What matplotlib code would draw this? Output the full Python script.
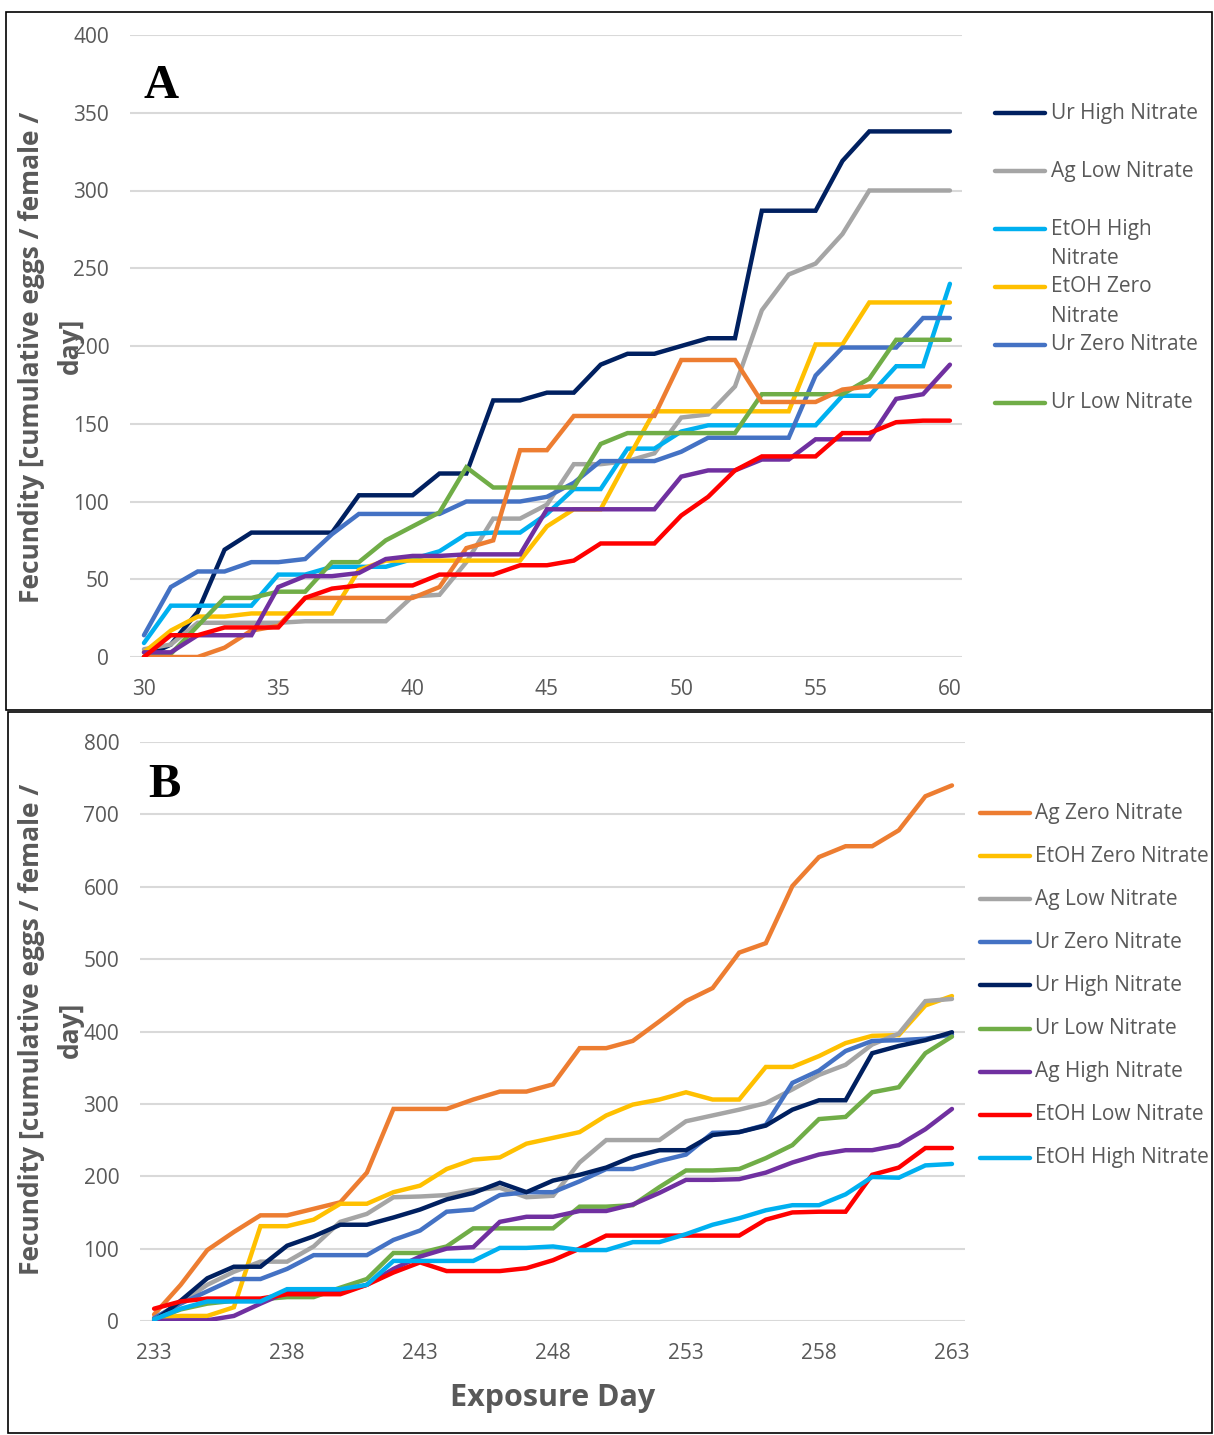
import matplotlib.pyplot as plt
from matplotlib.lines import Line2D
from matplotlib.patches import Rectangle

# ---- panel A: exposure days 30-60 ----
days_a = list(range(30, 61))
ur_high_a = [0, 8, 29, 69, 80, 80, 80, 80, 104, 104, 104, 118, 118, 165, 165, 170,
             170, 188, 195, 195, 200, 205, 205, 287, 287, 287, 319, 338, 338, 338, 338]
ag_low_a = [5, 8, 22, 22, 22, 22, 23, 23, 23, 23, 39, 40, 61, 89, 89, 98,
            124, 124, 126, 131, 154, 156, 174, 223, 246, 253, 272, 300, 300, 300, 300]
etoh_high_a = [9, 33, 33, 33, 33, 53, 53, 58, 58, 58, 63, 68, 79, 80, 80, 92,
               108, 108, 134, 134, 145, 149, 149, 149, 149, 149, 168, 168, 187, 187, 240]
etoh_zero_a = [3, 17, 26, 26, 28, 28, 28, 28, 56, 62, 62, 62, 62, 62, 62, 84,
               95, 95, 127, 158, 158, 158, 158, 158, 158, 201, 201, 228, 228, 228, 228]
ur_zero_a = [14, 45, 55, 55, 61, 61, 63, 79, 92, 92, 92, 92, 100, 100, 100, 103,
             112, 126, 126, 126, 132, 141, 141, 141, 141, 181, 199, 199, 199, 218, 218]
ur_low_a = [0, 2, 20, 38, 38, 42, 42, 61, 61, 75, 84, 93, 122, 109, 109, 109,
            109, 137, 144, 144, 144, 144, 144, 169, 169, 169, 169, 179, 204, 204, 204]
ag_zero_a = [0, 0, 0, 6, 17, 20, 38, 38, 38, 38, 38, 45, 70, 75, 133, 133,
             155, 155, 155, 155, 191, 191, 191, 164, 164, 164, 172, 174, 174, 174, 174]
ag_high_a = [3, 3, 14, 14, 14, 45, 52, 52, 54, 63, 65, 65, 66, 66, 66, 95,
             95, 95, 95, 95, 116, 120, 120, 127, 127, 140, 140, 140, 166, 169, 188]
etoh_low_a = [0, 14, 14, 19, 19, 19, 38, 44, 46, 46, 46, 53, 53, 53, 59, 59,
              62, 73, 73, 73, 91, 103, 120, 129, 129, 129, 144, 144, 151, 152, 152]

# ---- panel B: exposure days 233-263 ----
days_b = list(range(233, 264))
ag_zero_b = [9, 50, 98, 123, 146, 146, 155, 164, 205, 293, 293, 293, 306, 317, 317, 327,
             377, 377, 387, 414, 442, 460, 509, 522, 601, 641, 656, 656, 678, 725, 740]
etoh_zero_b = [4, 7, 7, 19, 131, 131, 140, 162, 162, 178, 187, 210, 223, 226, 245, 253,
               261, 284, 299, 306, 316, 306, 306, 351, 351, 366, 384, 394, 395, 436, 449]
ag_low_b = [4, 25, 50, 68, 82, 82, 103, 137, 148, 171, 172, 174, 181, 184, 171, 173,
            219, 250, 250, 250, 276, 284, 292, 301, 320, 340, 354, 382, 397, 442, 445]
ur_zero_b = [4, 24, 41, 58, 58, 72, 91, 91, 91, 112, 125, 151, 154, 174, 178, 178,
             193, 210, 210, 221, 230, 260, 261, 271, 329, 346, 373, 387, 388, 390, 396]
ur_high_b = [0, 28, 59, 75, 75, 104, 117, 133, 133, 143, 154, 168, 177, 191, 178, 194,
             202, 212, 227, 236, 236, 257, 261, 270, 292, 305, 305, 370, 380, 388, 399]
ur_low_b = [2, 16, 24, 28, 30, 33, 33, 46, 58, 94, 94, 103, 128, 128, 128, 128,
            158, 158, 160, 185, 208, 208, 210, 225, 243, 279, 282, 316, 323, 370, 393]
ag_high_b = [0, 1, 1, 7, 24, 40, 40, 40, 50, 72, 89, 100, 102, 137, 144, 144,
             152, 152, 161, 177, 195, 195, 196, 205, 219, 230, 236, 236, 243, 265, 293]
etoh_low_b = [17, 27, 31, 31, 31, 37, 37, 37, 50, 67, 81, 69, 69, 69, 73, 84,
              100, 118, 118, 118, 118, 118, 118, 140, 150, 151, 151, 202, 212, 239, 239]
etoh_high_b = [2, 17, 27, 27, 27, 44, 44, 44, 50, 83, 83, 83, 83, 101, 101, 103,
               98, 98, 109, 109, 120, 133, 142, 153, 160, 160, 175, 199, 198, 215, 217]

# colours per treatment
colors = {
    'Ur High Nitrate': '#002060',
    'Ag Low Nitrate': '#A5A5A5',
    'EtOH High Nitrate': '#00B0F0',
    'EtOH Zero Nitrate': '#FFC000',
    'Ur Zero Nitrate': '#4472C4',
    'Ur Low Nitrate': '#70AD47',
    'Ag Zero Nitrate': '#ED7D31',
    'Ag High Nitrate': '#7030A0',
    'EtOH Low Nitrate': '#FF0000',
}

series_a = [('Ur High Nitrate', ur_high_a), ('Ag Low Nitrate', ag_low_a),
            ('EtOH High Nitrate', etoh_high_a), ('EtOH Zero Nitrate', etoh_zero_a),
            ('Ur Zero Nitrate', ur_zero_a), ('Ur Low Nitrate', ur_low_a),
            ('Ag Zero Nitrate', ag_zero_a), ('Ag High Nitrate', ag_high_a),
            ('EtOH Low Nitrate', etoh_low_a)]
series_b = [('Ag Zero Nitrate', ag_zero_b), ('EtOH Zero Nitrate', etoh_zero_b),
            ('Ag Low Nitrate', ag_low_b), ('Ur Zero Nitrate', ur_zero_b),
            ('Ur High Nitrate', ur_high_b), ('Ur Low Nitrate', ur_low_b),
            ('Ag High Nitrate', ag_high_b), ('EtOH Low Nitrate', etoh_low_b),
            ('EtOH High Nitrate', etoh_high_b)]

# legend A only lists the first six series (the rest got cut off)
legend_a = [('Ur High Nitrate', ['Ur High Nitrate']),
            ('Ag Low Nitrate', ['Ag Low Nitrate']),
            ('EtOH High Nitrate', ['EtOH High', 'Nitrate']),
            ('EtOH Zero Nitrate', ['EtOH Zero', 'Nitrate']),
            ('Ur Zero Nitrate', ['Ur Zero Nitrate']),
            ('Ur Low Nitrate', ['Ur Low Nitrate'])]

TXT = '#595959'
GRID = '#D9D9D9'
W, H = 1214, 1435
LEG_FS = 15

plt.rcParams['font.family'] = ['Open Sans', 'DejaVu Sans']
fig = plt.figure(figsize=(W / 100, H / 100), dpi=100)


def fx(px):
    return px / W


def fy(py):
    return 1 - py / H


# outer frames of the two panels
fig.patches.append(Rectangle((fx(6), fy(710)), fx(1212) - fx(6), fy(12) - fy(710),
                             transform=fig.transFigure, fill=False, ec='black', lw=1.2))
fig.patches.append(Rectangle((fx(8), fy(1433)), fx(1212) - fx(8), fy(712) - fy(1433),
                             transform=fig.transFigure, fill=False, ec='black', lw=1.2))

ax_a = fig.add_axes([fx(130), fy(657), fx(962) - fx(130), fy(35) - fy(657)])
ax_b = fig.add_axes([fx(140), fy(1321), fx(965) - fx(140), fy(742) - fy(1321)])


def style_axis(ax, ymax, ystep, xticks, xlim):
    ax.set_xlim(*xlim)
    ax.set_ylim(0, ymax)
    ax.set_yticks(range(0, ymax + 1, ystep))
    ax.set_xticks(xticks)
    ax.grid(axis='y', color=GRID, lw=1.5)
    ax.set_axisbelow(True)
    for s in ax.spines.values():
        s.set_visible(False)
    ax.tick_params(length=0, labelsize=15, labelcolor=TXT)
    ax.tick_params(axis='y', pad=15)
    ax.tick_params(axis='x', pad=16)


for name, vals in series_a:
    ax_a.plot(days_a, vals, color=colors[name], lw=3.2, solid_capstyle='round',
              solid_joinstyle='miter')
style_axis(ax_a, 400, 50, range(30, 61, 5), (29.48, 60.45))

for name, vals in series_b:
    ax_b.plot(days_b, vals, color=colors[name], lw=3.2, solid_capstyle='round',
              solid_joinstyle='miter')
style_axis(ax_b, 800, 100, range(233, 264, 5), (232.47, 263.49))

# panel letters
fig.text(fx(143), fy(98), 'A', fontsize=35, fontweight='bold',
         family='Liberation Serif', color='black', va='baseline')
fig.text(fx(148), fy(797), 'B', fontsize=35, fontweight='bold',
         family='Liberation Serif', color='black', va='baseline')

# y label wraps onto a second short line ("day]") that sits over the tick labels
for yc, yd in ((357, 346), (1029, 1030)):
    fig.text(fx(32), fy(yc), 'Fecundity [cumulative eggs / female /', rotation=90,
             ha='center', va='center', fontsize=19, fontweight='bold', color=TXT)
    fig.text(fx(70), fy(yd), 'day]', rotation=90,
             ha='center', va='center', fontsize=19, fontweight='bold', color=TXT)

fig.text(fx(553), fy(1398), 'Exposure Day', ha='center', va='center',
         fontsize=22, fontweight='bold', color=TXT)

# legend A (wrapped entries)
ly = 113
for key, lines in legend_a:
    fig.add_artist(Line2D([fx(995), fx(1045)], [fy(ly), fy(ly)], color=colors[key],
                          lw=3.2, solid_capstyle='round', transform=fig.transFigure))
    for i, line in enumerate(lines):
        fig.text(fx(1051), fy(ly + 29 * i), line, va='center', fontsize=LEG_FS, color=TXT)
    ly += 58

# legend B
ly = 813
for name, _ in series_b:
    fig.add_artist(Line2D([fx(980), fx(1030)], [fy(ly), fy(ly)], color=colors[name],
                          lw=3.2, solid_capstyle='round', transform=fig.transFigure))
    fig.text(fx(1035), fy(ly), name, va='center', fontsize=LEG_FS, color=TXT)
    ly += 43.1

fig.savefig('out.png', dpi=100)
